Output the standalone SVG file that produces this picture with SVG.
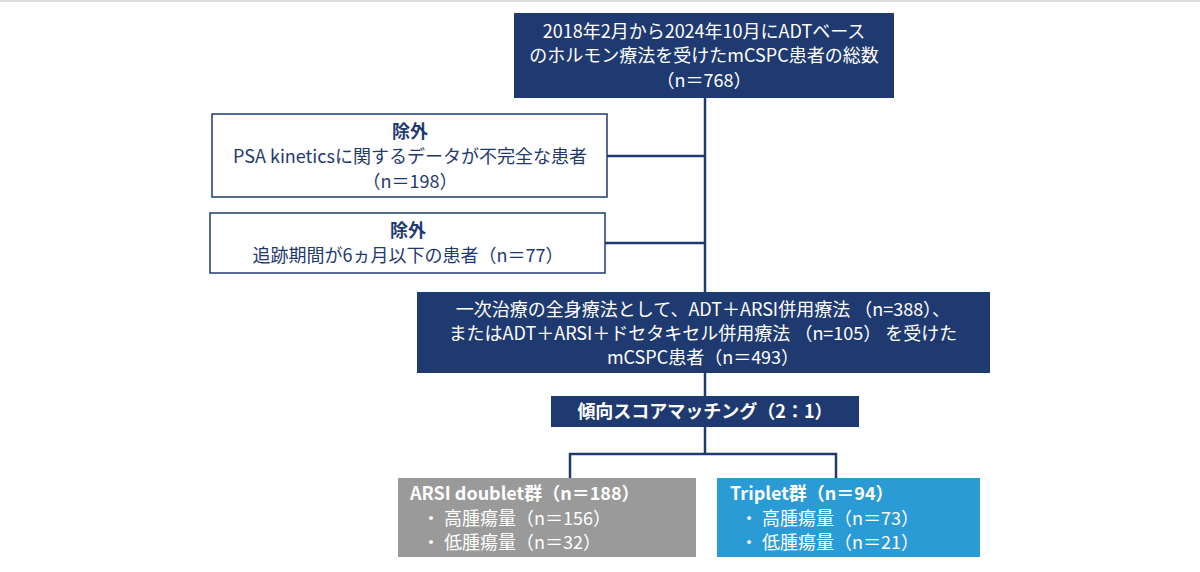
<svg xmlns="http://www.w3.org/2000/svg" width="1200" height="572" viewBox="0 0 1200 572">
<style>
text{font-family:"Noto Sans CJK JP","Noto Sans",sans-serif;font-size:18px;text-anchor:middle}
.w{fill:#fff}.n{fill:#1f3a70}.b{font-weight:bold}
.navy{fill:#1f3a70}.ex{fill:#fff;stroke:#1f3a70;stroke-width:1.5}
</style>
<rect width="1200" height="572" fill="#fff"/>
<line x1="0" y1="1" x2="1200" y2="1" stroke="#ddd" stroke-width="2"/>
<g id="connectors" stroke="#1f3a70" stroke-width="2.5" fill="none">
<line x1="705" y1="98" x2="705" y2="292"/>
<line x1="607" y1="156" x2="705" y2="156"/>
<line x1="605" y1="243" x2="705" y2="243"/>
<line x1="705" y1="373" x2="705" y2="396"/>
<line x1="705" y1="427" x2="705" y2="454"/>
<polyline points="570,478 570,454 836,454 836,478"/>
</g>
<g id="total"><rect class="navy" x="514" y="13" width="380" height="85"/>
<text class="w" x="704" y="38">2018年2月から2024年10月にADTベース</text>
<text class="w" x="704" y="62">のホルモン療法を受けたmCSPC患者の総数</text>
<text class="w" x="704" y="87">（n＝768）</text></g>
<g id="ex1"><rect class="ex" x="212" y="114" width="395" height="83"/>
<text class="n b" x="410" y="138">除外</text>
<text class="n" x="410" y="163">PSA kineticsに関するデータが不完全な患者</text>
<text class="n" x="410" y="188">（n＝198）</text></g>
<g id="ex2"><rect class="ex" x="210" y="213" width="395" height="60"/>
<text class="n b" x="408" y="237">除外</text>
<text class="n" x="408" y="262">追跡期間が6ヵ月以下の患者（n＝77）</text></g>
<g id="included"><rect class="navy" x="417" y="292" width="573" height="81"/>
<text class="w" x="703" y="316">一次治療の全身療法として、ADT＋ARSI併用療法 （n=388）、</text>
<text class="w" x="703" y="340">またはADT＋ARSI＋ドセタキセル併用療法 （n=105） を受けた</text>
<text class="w" x="703" y="364">mCSPC患者（n＝493）</text></g>
<g id="psm"><rect class="navy" x="551" y="396" width="308" height="31"/>
<text class="w b" x="705" y="418">傾向スコアマッチング（2：1）</text></g>
<g id="doublet"><rect fill="#9a9a9a" x="398" y="478" width="298" height="79"/>
<text class="w b" x="410" y="500" style="text-anchor:start">ARSI doublet群（n＝188）</text>
<text class="w" x="422" y="525" style="text-anchor:start">・ 高腫瘍量（n＝156）</text>
<text class="w" x="422" y="549" style="text-anchor:start">・ 低腫瘍量（n＝32）</text></g>
<g id="triplet"><rect fill="#2a9bd5" x="717" y="478" width="263" height="79"/>
<text class="w b" x="730" y="500" style="text-anchor:start">Triplet群（n＝94）</text>
<text class="w" x="740" y="525" style="text-anchor:start">・ 高腫瘍量（n＝73）</text>
<text class="w" x="740" y="549" style="text-anchor:start">・ 低腫瘍量（n＝21）</text></g>
</svg>
